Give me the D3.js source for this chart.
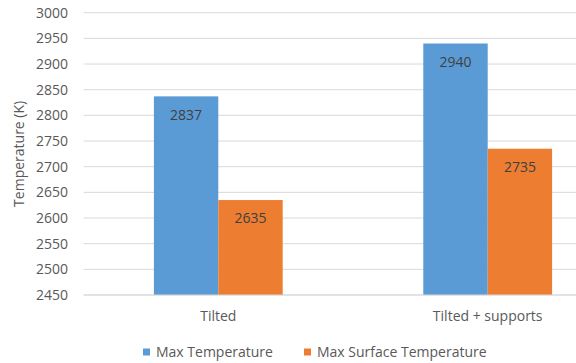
<!DOCTYPE html>
<html>
<head>
<meta charset="utf-8">
<script src="https://cdn.jsdelivr.net/npm/d3@7"></script>
<style>
  html, body { margin: 0; padding: 0; background: #fff; }
  svg { display: block; font-family: "Open Sans", "Liberation Sans", sans-serif; }
</style>
</head>
<body>
<svg id="chart" width="576" height="363"></svg>
<script>
// Chart data
const categories = ["Tilted", "Tilted + supports"];
const seriesNames = ["Max Temperature", "Max Surface Temperature"];
const maxTemperature = [2837, 2940];
const maxSurfaceTemperature = [2635, 2735];
const yTicks = [2450, 2500, 2550, 2600, 2650, 2700, 2750, 2800, 2850, 2900, 2950, 3000];
const colors = ["#5B9BD5", "#ED7D31"];

const seriesValues = [maxTemperature, maxSurfaceTemperature];

const svg = d3.select("#chart");
const plotLeft = 83.6, plotTop = 12.7, plotBottom = 295;
const bandW = 269.4;
const plotRight = plotLeft + bandW * categories.length;
const fs = 14;

const y = d3.scaleLinear().domain([2450, 3000]).range([plotBottom, plotTop]);
const x0 = d3.scaleBand().domain(categories).range([plotLeft, plotRight]).paddingInner(0).paddingOuter(0);
// bars occupy 128.8 px of each 269.4 px band
const groupW = 128.8;
const x1 = d3.scaleBand().domain(seriesNames).range([0, groupW]).padding(0);

// gridlines
const clipRight = 576;
svg.append("g").selectAll("line").data(yTicks).join("line")
  .attr("x1", plotLeft).attr("x2", clipRight)
  .attr("y1", d => y(d)).attr("y2", d => y(d))
  .attr("stroke", "#d9d9d9").attr("stroke-width", 1);

// y tick labels
svg.append("g").selectAll("text").data(yTicks).join("text")
  .attr("x", 68).attr("y", d => y(d)).attr("dy", "0.35em")
  .attr("text-anchor", "end").attr("font-size", fs).attr("fill", "#595959")
  .text(d => d);

// y axis title
svg.append("text")
  .attr("transform", `translate(19,${(plotTop + plotBottom) / 2}) rotate(-90)`)
  .attr("text-anchor", "middle").attr("dy", "0.35em")
  .attr("font-size", fs).attr("fill", "#595959")
  .text("Temperature (K)");

// bars
const groups = svg.append("g").selectAll("g").data(categories).join("g")
  .attr("transform", c => `translate(${x0(c) + (bandW - groupW) / 2},0)`);

groups.each(function(c, ci) {
  const g = d3.select(this);
  seriesNames.forEach((s, si) => {
    const v = seriesValues[si][ci];
    g.append("rect")
      .attr("x", x1(s)).attr("y", y(v))
      .attr("width", x1.bandwidth()).attr("height", plotBottom - y(v))
      .attr("fill", colors[si]);
    g.append("text")
      .attr("x", x1(s) + x1.bandwidth() / 2).attr("y", y(v) + 18.5)
      .attr("dy", "0.35em").attr("text-anchor", "middle")
      .attr("font-size", fs).attr("fill", "#404040")
      .text(v);
  });
});

// axis line at the bottom
svg.append("line")
  .attr("x1", plotLeft).attr("x2", clipRight)
  .attr("y1", plotBottom).attr("y2", plotBottom)
  .attr("stroke", "#d9d9d9");

// category labels
svg.append("g").selectAll("text").data(categories).join("text")
  .attr("x", c => x0(c) + bandW / 2).attr("y", 316).attr("dy", "0.35em")
  .attr("text-anchor", "middle").attr("font-size", fs).attr("fill", "#595959")
  .text(c => c);

// legend
const legendX = [143, 304];
const legend = svg.append("g").selectAll("g").data(seriesNames).join("g")
  .attr("transform", (d, i) => `translate(${legendX[i]},352)`);
legend.append("rect").attr("x", 0).attr("y", -3.5).attr("width", 7).attr("height", 7)
  .attr("fill", (d, i) => colors[i]);
legend.append("text").attr("x", 13).attr("y", 0).attr("dy", "0.35em")
  .attr("font-size", fs).attr("fill", "#595959").text(d => d);
</script>
</body>
</html>
